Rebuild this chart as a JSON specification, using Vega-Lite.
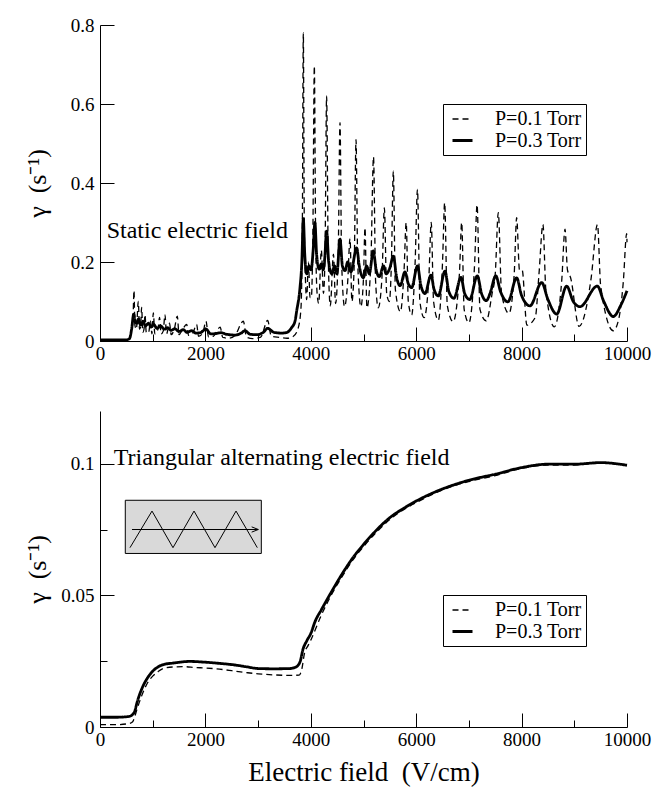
{
"$schema": "https://vega.github.io/schema/vega-lite/v6.json",
"background": "white",
"padding": {"left": 24, "top": 16, "right": 10, "bottom": 5},
"config": {
  "view": {"stroke": null},
  "font": "Liberation Serif",
  "style": {"guide-label": {"font": "Liberation Serif", "fill": "black"}, "guide-title": {"font": "Liberation Serif", "fill": "black", "fontWeight": "normal"}},
  "axis": {"domainColor": "black", "tickColor": "black", "labelColor": "black", "titleColor": "black", "labelFont": "Liberation Serif", "titleFont": "Liberation Serif", "labelFontSize": 19, "titleFontWeight": "normal", "grid": false, "labelFlush": false, "labelOverlap": false, "domainWidth": 1, "tickWidth": 1},
  "legend": {"orient": "none", "title": null, "strokeColor": "black", "fillColor": "white", "padding": 4, "rowPadding": 0, "symbolOffset": 4, "labelOffset": 21, "labelFont": "Liberation Serif", "labelFontSize": 20, "labelColor": "black", "symbolType": "stroke", "symbolSize": 400, "symbolStrokeColor": "black"}
},
"datasets": {
  "top": [
{"x":0,"y":0.001,"s":"P=0.1 Torr"},{"x":300,"y":0.001,"s":"P=0.1 Torr"},{"x":500,"y":0.002,"s":"P=0.1 Torr"},{"x":560,"y":0.005,"s":"P=0.1 Torr"},{"x":600,"y":0.03,"s":"P=0.1 Torr"},{"x":625,"y":0.05,"s":"P=0.1 Torr"},{"x":645,"y":0.128,"s":"P=0.1 Torr"},{"x":662,"y":0.04,"s":"P=0.1 Torr"},{"x":690,"y":0.03,"s":"P=0.1 Torr"},{"x":727,"y":0.10,"s":"P=0.1 Torr"},{"x":750,"y":0.03,"s":"P=0.1 Torr"},{"x":770,"y":0.035,"s":"P=0.1 Torr"},{"x":790,"y":0.085,"s":"P=0.1 Torr"},{"x":812,"y":0.022,"s":"P=0.1 Torr"},{"x":835,"y":0.03,"s":"P=0.1 Torr"},{"x":854,"y":0.067,"s":"P=0.1 Torr"},{"x":878,"y":0.022,"s":"P=0.1 Torr"},{"x":920,"y":0.02,"s":"P=0.1 Torr"},{"x":960,"y":0.05,"s":"P=0.1 Torr"},{"x":985,"y":0.018,"s":"P=0.1 Torr"},{"x":1012,"y":0.071,"s":"P=0.1 Torr"},{"x":1040,"y":0.018,"s":"P=0.1 Torr"},{"x":1100,"y":0.03,"s":"P=0.1 Torr"},{"x":1130,"y":0.06,"s":"P=0.1 Torr"},{"x":1160,"y":0.018,"s":"P=0.1 Torr"},{"x":1200,"y":0.025,"s":"P=0.1 Torr"},{"x":1233,"y":0.067,"s":"P=0.1 Torr"},{"x":1262,"y":0.018,"s":"P=0.1 Torr"},{"x":1320,"y":0.045,"s":"P=0.1 Torr"},{"x":1350,"y":0.016,"s":"P=0.1 Torr"},{"x":1410,"y":0.03,"s":"P=0.1 Torr"},{"x":1467,"y":0.063,"s":"P=0.1 Torr"},{"x":1500,"y":0.016,"s":"P=0.1 Torr"},{"x":1560,"y":0.028,"s":"P=0.1 Torr"},{"x":1645,"y":0.042,"s":"P=0.1 Torr"},{"x":1680,"y":0.014,"s":"P=0.1 Torr"},{"x":1760,"y":0.02,"s":"P=0.1 Torr"},{"x":1834,"y":0.042,"s":"P=0.1 Torr"},{"x":1870,"y":0.012,"s":"P=0.1 Torr"},{"x":1950,"y":0.02,"s":"P=0.1 Torr"},{"x":2011,"y":0.05,"s":"P=0.1 Torr"},{"x":2060,"y":0.01,"s":"P=0.1 Torr"},{"x":2150,"y":0.012,"s":"P=0.1 Torr"},{"x":2280,"y":0.035,"s":"P=0.1 Torr"},{"x":2330,"y":0.009,"s":"P=0.1 Torr"},{"x":2450,"y":0.007,"s":"P=0.1 Torr"},{"x":2560,"y":0.014,"s":"P=0.1 Torr"},{"x":2720,"y":0.05,"s":"P=0.1 Torr"},{"x":2780,"y":0.01,"s":"P=0.1 Torr"},{"x":2900,"y":0.006,"s":"P=0.1 Torr"},{"x":3050,"y":0.01,"s":"P=0.1 Torr"},{"x":3181,"y":0.052,"s":"P=0.1 Torr"},{"x":3250,"y":0.012,"s":"P=0.1 Torr"},{"x":3400,"y":0.009,"s":"P=0.1 Torr"},{"x":3550,"y":0.007,"s":"P=0.1 Torr"},{"x":3669,"y":0.012,"s":"P=0.1 Torr"},{"x":3763,"y":0.034,"s":"P=0.1 Torr"},{"x":3814,"y":0.084,"s":"P=0.1 Torr"},{"x":3840,"y":0.3,"s":"P=0.1 Torr"},{"x":3858,"y":0.78,"s":"P=0.1 Torr"},{"x":3876,"y":0.3,"s":"P=0.1 Torr"},{"x":3900,"y":0.15,"s":"P=0.1 Torr"},{"x":3921,"y":0.105,"s":"P=0.1 Torr"},{"x":3955,"y":0.2,"s":"P=0.1 Torr"},{"x":3985,"y":0.11,"s":"P=0.1 Torr"},{"x":4010,"y":0.11,"s":"P=0.1 Torr"},{"x":4040,"y":0.28,"s":"P=0.1 Torr"},{"x":4067,"y":0.696,"s":"P=0.1 Torr"},{"x":4092,"y":0.26,"s":"P=0.1 Torr"},{"x":4120,"y":0.12,"s":"P=0.1 Torr"},{"x":4150,"y":0.095,"s":"P=0.1 Torr"},{"x":4200,"y":0.23,"s":"P=0.1 Torr"},{"x":4240,"y":0.12,"s":"P=0.1 Torr"},{"x":4270,"y":0.22,"s":"P=0.1 Torr"},{"x":4300,"y":0.62,"s":"P=0.1 Torr"},{"x":4330,"y":0.22,"s":"P=0.1 Torr"},{"x":4370,"y":0.089,"s":"P=0.1 Torr"},{"x":4430,"y":0.22,"s":"P=0.1 Torr"},{"x":4470,"y":0.095,"s":"P=0.1 Torr"},{"x":4520,"y":0.22,"s":"P=0.1 Torr"},{"x":4554,"y":0.553,"s":"P=0.1 Torr"},{"x":4585,"y":0.2,"s":"P=0.1 Torr"},{"x":4640,"y":0.087,"s":"P=0.1 Torr"},{"x":4700,"y":0.15,"s":"P=0.1 Torr"},{"x":4744,"y":0.26,"s":"P=0.1 Torr"},{"x":4780,"y":0.1,"s":"P=0.1 Torr"},{"x":4825,"y":0.2,"s":"P=0.1 Torr"},{"x":4858,"y":0.51,"s":"P=0.1 Torr"},{"x":4890,"y":0.2,"s":"P=0.1 Torr"},{"x":4950,"y":0.087,"s":"P=0.1 Torr"},{"x":5000,"y":0.16,"s":"P=0.1 Torr"},{"x":5028,"y":0.287,"s":"P=0.1 Torr"},{"x":5065,"y":0.084,"s":"P=0.1 Torr"},{"x":5140,"y":0.2,"s":"P=0.1 Torr"},{"x":5190,"y":0.466,"s":"P=0.1 Torr"},{"x":5230,"y":0.15,"s":"P=0.1 Torr"},{"x":5280,"y":0.084,"s":"P=0.1 Torr"},{"x":5350,"y":0.16,"s":"P=0.1 Torr"},{"x":5396,"y":0.337,"s":"P=0.1 Torr"},{"x":5440,"y":0.12,"s":"P=0.1 Torr"},{"x":5490,"y":0.1,"s":"P=0.1 Torr"},{"x":5530,"y":0.2,"s":"P=0.1 Torr"},{"x":5566,"y":0.43,"s":"P=0.1 Torr"},{"x":5605,"y":0.13,"s":"P=0.1 Torr"},{"x":5700,"y":0.074,"s":"P=0.1 Torr"},{"x":5770,"y":0.18,"s":"P=0.1 Torr"},{"x":5810,"y":0.30,"s":"P=0.1 Torr"},{"x":5850,"y":0.1,"s":"P=0.1 Torr"},{"x":5914,"y":0.066,"s":"P=0.1 Torr"},{"x":5980,"y":0.2,"s":"P=0.1 Torr"},{"x":6024,"y":0.384,"s":"P=0.1 Torr"},{"x":6070,"y":0.1,"s":"P=0.1 Torr"},{"x":6150,"y":0.059,"s":"P=0.1 Torr"},{"x":6240,"y":0.16,"s":"P=0.1 Torr"},{"x":6285,"y":0.30,"s":"P=0.1 Torr"},{"x":6330,"y":0.1,"s":"P=0.1 Torr"},{"x":6420,"y":0.053,"s":"P=0.1 Torr"},{"x":6500,"y":0.2,"s":"P=0.1 Torr"},{"x":6540,"y":0.35,"s":"P=0.1 Torr"},{"x":6590,"y":0.09,"s":"P=0.1 Torr"},{"x":6700,"y":0.049,"s":"P=0.1 Torr"},{"x":6820,"y":0.17,"s":"P=0.1 Torr"},{"x":6863,"y":0.30,"s":"P=0.1 Torr"},{"x":6910,"y":0.08,"s":"P=0.1 Torr"},{"x":7000,"y":0.046,"s":"P=0.1 Torr"},{"x":7110,"y":0.2,"s":"P=0.1 Torr"},{"x":7155,"y":0.345,"s":"P=0.1 Torr"},{"x":7210,"y":0.08,"s":"P=0.1 Torr"},{"x":7330,"y":0.051,"s":"P=0.1 Torr"},{"x":7440,"y":0.12,"s":"P=0.1 Torr"},{"x":7500,"y":0.17,"s":"P=0.1 Torr"},{"x":7558,"y":0.325,"s":"P=0.1 Torr"},{"x":7620,"y":0.12,"s":"P=0.1 Torr"},{"x":7760,"y":0.07,"s":"P=0.1 Torr"},{"x":7860,"y":0.17,"s":"P=0.1 Torr"},{"x":7906,"y":0.312,"s":"P=0.1 Torr"},{"x":7960,"y":0.18,"s":"P=0.1 Torr"},{"x":8010,"y":0.18,"s":"P=0.1 Torr"},{"x":8100,"y":0.04,"s":"P=0.1 Torr"},{"x":8260,"y":0.06,"s":"P=0.1 Torr"},{"x":8330,"y":0.17,"s":"P=0.1 Torr"},{"x":8405,"y":0.295,"s":"P=0.1 Torr"},{"x":8460,"y":0.13,"s":"P=0.1 Torr"},{"x":8620,"y":0.036,"s":"P=0.1 Torr"},{"x":8760,"y":0.15,"s":"P=0.1 Torr"},{"x":8824,"y":0.283,"s":"P=0.1 Torr"},{"x":8870,"y":0.18,"s":"P=0.1 Torr"},{"x":8930,"y":0.16,"s":"P=0.1 Torr"},{"x":9090,"y":0.037,"s":"P=0.1 Torr"},{"x":9250,"y":0.1,"s":"P=0.1 Torr"},{"x":9320,"y":0.16,"s":"P=0.1 Torr"},{"x":9440,"y":0.295,"s":"P=0.1 Torr"},{"x":9500,"y":0.14,"s":"P=0.1 Torr"},{"x":9740,"y":0.026,"s":"P=0.1 Torr"},{"x":9850,"y":0.06,"s":"P=0.1 Torr"},{"x":9930,"y":0.15,"s":"P=0.1 Torr"},{"x":9994,"y":0.272,"s":"P=0.1 Torr"},{"x":10000,"y":0.25,"s":"P=0.1 Torr"},
{"x":0,"y":0.003,"s":"P=0.3 Torr"},{"x":500,"y":0.003,"s":"P=0.3 Torr"},{"x":560,"y":0.006,"s":"P=0.3 Torr"},{"x":600,"y":0.03,"s":"P=0.3 Torr"},{"x":640,"y":0.068,"s":"P=0.3 Torr"},{"x":670,"y":0.048,"s":"P=0.3 Torr"},{"x":700,"y":0.045,"s":"P=0.3 Torr"},{"x":730,"y":0.056,"s":"P=0.3 Torr"},{"x":770,"y":0.04,"s":"P=0.3 Torr"},{"x":820,"y":0.05,"s":"P=0.3 Torr"},{"x":860,"y":0.038,"s":"P=0.3 Torr"},{"x":920,"y":0.045,"s":"P=0.3 Torr"},{"x":970,"y":0.035,"s":"P=0.3 Torr"},{"x":1020,"y":0.042,"s":"P=0.3 Torr"},{"x":1080,"y":0.032,"s":"P=0.3 Torr"},{"x":1150,"y":0.038,"s":"P=0.3 Torr"},{"x":1220,"y":0.03,"s":"P=0.3 Torr"},{"x":1280,"y":0.034,"s":"P=0.3 Torr"},{"x":1350,"y":0.027,"s":"P=0.3 Torr"},{"x":1420,"y":0.031,"s":"P=0.3 Torr"},{"x":1500,"y":0.024,"s":"P=0.3 Torr"},{"x":1580,"y":0.029,"s":"P=0.3 Torr"},{"x":1650,"y":0.022,"s":"P=0.3 Torr"},{"x":1740,"y":0.026,"s":"P=0.3 Torr"},{"x":1820,"y":0.02,"s":"P=0.3 Torr"},{"x":1900,"y":0.021,"s":"P=0.3 Torr"},{"x":2011,"y":0.03,"s":"P=0.3 Torr"},{"x":2100,"y":0.018,"s":"P=0.3 Torr"},{"x":2200,"y":0.019,"s":"P=0.3 Torr"},{"x":2300,"y":0.021,"s":"P=0.3 Torr"},{"x":2400,"y":0.017,"s":"P=0.3 Torr"},{"x":2562,"y":0.015,"s":"P=0.3 Torr"},{"x":2680,"y":0.02,"s":"P=0.3 Torr"},{"x":2751,"y":0.026,"s":"P=0.3 Torr"},{"x":2850,"y":0.017,"s":"P=0.3 Torr"},{"x":2973,"y":0.016,"s":"P=0.3 Torr"},{"x":3100,"y":0.022,"s":"P=0.3 Torr"},{"x":3181,"y":0.032,"s":"P=0.3 Torr"},{"x":3300,"y":0.022,"s":"P=0.3 Torr"},{"x":3447,"y":0.02,"s":"P=0.3 Torr"},{"x":3550,"y":0.022,"s":"P=0.3 Torr"},{"x":3637,"y":0.034,"s":"P=0.3 Torr"},{"x":3700,"y":0.05,"s":"P=0.3 Torr"},{"x":3732,"y":0.076,"s":"P=0.3 Torr"},{"x":3795,"y":0.135,"s":"P=0.3 Torr"},{"x":3830,"y":0.2,"s":"P=0.3 Torr"},{"x":3858,"y":0.31,"s":"P=0.3 Torr"},{"x":3885,"y":0.22,"s":"P=0.3 Torr"},{"x":3925,"y":0.17,"s":"P=0.3 Torr"},{"x":3965,"y":0.19,"s":"P=0.3 Torr"},{"x":4005,"y":0.18,"s":"P=0.3 Torr"},{"x":4045,"y":0.23,"s":"P=0.3 Torr"},{"x":4078,"y":0.30,"s":"P=0.3 Torr"},{"x":4110,"y":0.22,"s":"P=0.3 Torr"},{"x":4160,"y":0.182,"s":"P=0.3 Torr"},{"x":4200,"y":0.195,"s":"P=0.3 Torr"},{"x":4235,"y":0.18,"s":"P=0.3 Torr"},{"x":4265,"y":0.21,"s":"P=0.3 Torr"},{"x":4300,"y":0.278,"s":"P=0.3 Torr"},{"x":4340,"y":0.2,"s":"P=0.3 Torr"},{"x":4400,"y":0.17,"s":"P=0.3 Torr"},{"x":4450,"y":0.19,"s":"P=0.3 Torr"},{"x":4495,"y":0.17,"s":"P=0.3 Torr"},{"x":4554,"y":0.258,"s":"P=0.3 Torr"},{"x":4600,"y":0.19,"s":"P=0.3 Torr"},{"x":4650,"y":0.178,"s":"P=0.3 Torr"},{"x":4700,"y":0.2,"s":"P=0.3 Torr"},{"x":4760,"y":0.175,"s":"P=0.3 Torr"},{"x":4870,"y":0.236,"s":"P=0.3 Torr"},{"x":4920,"y":0.19,"s":"P=0.3 Torr"},{"x":4997,"y":0.16,"s":"P=0.3 Torr"},{"x":5060,"y":0.19,"s":"P=0.3 Torr"},{"x":5110,"y":0.17,"s":"P=0.3 Torr"},{"x":5186,"y":0.228,"s":"P=0.3 Torr"},{"x":5240,"y":0.18,"s":"P=0.3 Torr"},{"x":5300,"y":0.163,"s":"P=0.3 Torr"},{"x":5380,"y":0.19,"s":"P=0.3 Torr"},{"x":5430,"y":0.17,"s":"P=0.3 Torr"},{"x":5500,"y":0.185,"s":"P=0.3 Torr"},{"x":5566,"y":0.215,"s":"P=0.3 Torr"},{"x":5630,"y":0.16,"s":"P=0.3 Torr"},{"x":5695,"y":0.14,"s":"P=0.3 Torr"},{"x":5787,"y":0.175,"s":"P=0.3 Torr"},{"x":5850,"y":0.145,"s":"P=0.3 Torr"},{"x":5914,"y":0.135,"s":"P=0.3 Torr"},{"x":6024,"y":0.19,"s":"P=0.3 Torr"},{"x":6090,"y":0.14,"s":"P=0.3 Torr"},{"x":6167,"y":0.12,"s":"P=0.3 Torr"},{"x":6281,"y":0.167,"s":"P=0.3 Torr"},{"x":6340,"y":0.13,"s":"P=0.3 Torr"},{"x":6420,"y":0.114,"s":"P=0.3 Torr"},{"x":6546,"y":0.177,"s":"P=0.3 Torr"},{"x":6620,"y":0.125,"s":"P=0.3 Torr"},{"x":6715,"y":0.108,"s":"P=0.3 Torr"},{"x":6850,"y":0.161,"s":"P=0.3 Torr"},{"x":6920,"y":0.12,"s":"P=0.3 Torr"},{"x":7015,"y":0.105,"s":"P=0.3 Torr"},{"x":7160,"y":0.165,"s":"P=0.3 Torr"},{"x":7240,"y":0.12,"s":"P=0.3 Torr"},{"x":7330,"y":0.102,"s":"P=0.3 Torr"},{"x":7400,"y":0.12,"s":"P=0.3 Torr"},{"x":7510,"y":0.165,"s":"P=0.3 Torr"},{"x":7600,"y":0.125,"s":"P=0.3 Torr"},{"x":7740,"y":0.099,"s":"P=0.3 Torr"},{"x":7906,"y":0.16,"s":"P=0.3 Torr"},{"x":8000,"y":0.115,"s":"P=0.3 Torr"},{"x":8159,"y":0.089,"s":"P=0.3 Torr"},{"x":8381,"y":0.148,"s":"P=0.3 Torr"},{"x":8500,"y":0.105,"s":"P=0.3 Torr"},{"x":8666,"y":0.068,"s":"P=0.3 Torr"},{"x":8855,"y":0.139,"s":"P=0.3 Torr"},{"x":8980,"y":0.1,"s":"P=0.3 Torr"},{"x":9108,"y":0.087,"s":"P=0.3 Torr"},{"x":9437,"y":0.139,"s":"P=0.3 Torr"},{"x":9560,"y":0.1,"s":"P=0.3 Torr"},{"x":9740,"y":0.062,"s":"P=0.3 Torr"},{"x":9880,"y":0.09,"s":"P=0.3 Torr"},{"x":10000,"y":0.127,"s":"P=0.3 Torr"}
  ],
  "bot": [
{"x":0,"y":0.0009,"s":"P=0.1 Torr"},{"x":300,"y":0.0009,"s":"P=0.1 Torr"},{"x":550,"y":0.0013,"s":"P=0.1 Torr"},{"x":620,"y":0.002,"s":"P=0.1 Torr"},{"x":660,"y":0.004,"s":"P=0.1 Torr"},{"x":700,"y":0.0066,"s":"P=0.1 Torr"},{"x":800,"y":0.0123,"s":"P=0.1 Torr"},{"x":900,"y":0.0167,"s":"P=0.1 Torr"},{"x":1000,"y":0.0193,"s":"P=0.1 Torr"},{"x":1100,"y":0.021,"s":"P=0.1 Torr"},{"x":1200,"y":0.0222,"s":"P=0.1 Torr"},{"x":1400,"y":0.0228,"s":"P=0.1 Torr"},{"x":1600,"y":0.0229,"s":"P=0.1 Torr"},{"x":1800,"y":0.0226,"s":"P=0.1 Torr"},{"x":2000,"y":0.0224,"s":"P=0.1 Torr"},{"x":2200,"y":0.0221,"s":"P=0.1 Torr"},{"x":2500,"y":0.0214,"s":"P=0.1 Torr"},{"x":2800,"y":0.0206,"s":"P=0.1 Torr"},{"x":3000,"y":0.0202,"s":"P=0.1 Torr"},{"x":3300,"y":0.0198,"s":"P=0.1 Torr"},{"x":3600,"y":0.0196,"s":"P=0.1 Torr"},{"x":3780,"y":0.0197,"s":"P=0.1 Torr"},{"x":3830,"y":0.022,"s":"P=0.1 Torr"},{"x":3880,"y":0.028,"s":"P=0.1 Torr"},{"x":3950,"y":0.031,"s":"P=0.1 Torr"},{"x":4000,"y":0.033,"s":"P=0.1 Torr"},{"x":4200,"y":0.0425,"s":"P=0.1 Torr"},{"x":4400,"y":0.0505,"s":"P=0.1 Torr"},{"x":4600,"y":0.0573,"s":"P=0.1 Torr"},{"x":4800,"y":0.0635,"s":"P=0.1 Torr"},{"x":5000,"y":0.0685,"s":"P=0.1 Torr"},{"x":5200,"y":0.073,"s":"P=0.1 Torr"},{"x":5500,"y":0.0788,"s":"P=0.1 Torr"},{"x":5800,"y":0.083,"s":"P=0.1 Torr"},{"x":6000,"y":0.0852,"s":"P=0.1 Torr"},{"x":6400,"y":0.0892,"s":"P=0.1 Torr"},{"x":6800,"y":0.0921,"s":"P=0.1 Torr"},{"x":7000,"y":0.0932,"s":"P=0.1 Torr"},{"x":7500,"y":0.0955,"s":"P=0.1 Torr"},{"x":8000,"y":0.0982,"s":"P=0.1 Torr"},{"x":8500,"y":0.0995,"s":"P=0.1 Torr"},{"x":9000,"y":0.0995,"s":"P=0.1 Torr"},{"x":9500,"y":0.1002,"s":"P=0.1 Torr"},{"x":10000,"y":0.0993,"s":"P=0.1 Torr"},
{"x":0,"y":0.0037,"s":"P=0.3 Torr"},{"x":300,"y":0.0037,"s":"P=0.3 Torr"},{"x":550,"y":0.004,"s":"P=0.3 Torr"},{"x":620,"y":0.0048,"s":"P=0.3 Torr"},{"x":660,"y":0.006,"s":"P=0.3 Torr"},{"x":700,"y":0.0091,"s":"P=0.3 Torr"},{"x":800,"y":0.0148,"s":"P=0.3 Torr"},{"x":900,"y":0.0186,"s":"P=0.3 Torr"},{"x":1000,"y":0.0212,"s":"P=0.3 Torr"},{"x":1100,"y":0.0228,"s":"P=0.3 Torr"},{"x":1200,"y":0.0237,"s":"P=0.3 Torr"},{"x":1400,"y":0.0243,"s":"P=0.3 Torr"},{"x":1700,"y":0.0249,"s":"P=0.3 Torr"},{"x":2000,"y":0.0246,"s":"P=0.3 Torr"},{"x":2300,"y":0.0241,"s":"P=0.3 Torr"},{"x":2500,"y":0.0237,"s":"P=0.3 Torr"},{"x":2800,"y":0.0228,"s":"P=0.3 Torr"},{"x":3000,"y":0.0222,"s":"P=0.3 Torr"},{"x":3300,"y":0.0221,"s":"P=0.3 Torr"},{"x":3600,"y":0.0222,"s":"P=0.3 Torr"},{"x":3720,"y":0.0228,"s":"P=0.3 Torr"},{"x":3800,"y":0.025,"s":"P=0.3 Torr"},{"x":3850,"y":0.0294,"s":"P=0.3 Torr"},{"x":3920,"y":0.0326,"s":"P=0.3 Torr"},{"x":4000,"y":0.0355,"s":"P=0.3 Torr"},{"x":4084,"y":0.0402,"s":"P=0.3 Torr"},{"x":4200,"y":0.0445,"s":"P=0.3 Torr"},{"x":4400,"y":0.0516,"s":"P=0.3 Torr"},{"x":4600,"y":0.0583,"s":"P=0.3 Torr"},{"x":4800,"y":0.0643,"s":"P=0.3 Torr"},{"x":5000,"y":0.0693,"s":"P=0.3 Torr"},{"x":5200,"y":0.0738,"s":"P=0.3 Torr"},{"x":5500,"y":0.0795,"s":"P=0.3 Torr"},{"x":5800,"y":0.0835,"s":"P=0.3 Torr"},{"x":6000,"y":0.0858,"s":"P=0.3 Torr"},{"x":6400,"y":0.0896,"s":"P=0.3 Torr"},{"x":6800,"y":0.0925,"s":"P=0.3 Torr"},{"x":7000,"y":0.0937,"s":"P=0.3 Torr"},{"x":7500,"y":0.096,"s":"P=0.3 Torr"},{"x":8000,"y":0.0985,"s":"P=0.3 Torr"},{"x":8500,"y":0.0998,"s":"P=0.3 Torr"},{"x":9000,"y":0.0998,"s":"P=0.3 Torr"},{"x":9500,"y":0.1004,"s":"P=0.3 Torr"},{"x":10000,"y":0.0994,"s":"P=0.3 Torr"}
  ],
  "inset": [
{"x":569,"y":0.0681,"g":"w","o":0},{"x":987,"y":0.082,"g":"w","o":1},{"x":1385,"y":0.0681,"g":"w","o":2},{"x":1784,"y":0.082,"g":"w","o":3},{"x":2182,"y":0.0681,"g":"w","o":4},{"x":2581,"y":0.082,"g":"w","o":5},{"x":2985,"y":0.0681,"g":"w","o":6},
{"x":607,"y":0.075,"g":"a","o":0},{"x":3004,"y":0.075,"g":"a","o":1},
{"x":2878,"y":0.0760,"g":"h","o":0},{"x":3004,"y":0.075,"g":"h","o":1},{"x":2878,"y":0.0740,"g":"h","o":2}
  ]
},
"bounds": "flush",
"spacing": 70,
"resolve": {"scale": {"strokeDash": "independent", "strokeWidth": "independent"}, "legend": {"strokeDash": "independent", "strokeWidth": "independent"}},
"vconcat": [
  {
    "width": 527, "height": 316,
    "layer": [
      {
        "data": {"name": "top"},
        "mark": {"type": "line", "interpolate": "monotone", "color": "black"},
        "encoding": {
          "x": {"field": "x", "type": "quantitative", "scale": {"domain": [0, 10000], "nice": false},
                "axis": {"title": null, "labelFont": "Liberation Serif", "values": [0,1000,2000,3000,4000,5000,6000,7000,8000,9000,10000], "format": "d",
                         "labelExpr": "datum.value % 2000 === 0 ? datum.label : ''",
                         "tickSize": {"condition": {"test": "datum.value % 2000 === 0", "value": -14}, "value": -7},
                         "labelPadding": 17}},
          "y": {"field": "y", "type": "quantitative", "scale": {"domain": [0, 0.8], "nice": false},
                "axis": {"title": "γ\u00a0\u00a0(s⁻¹)", "labelFont": "Liberation Serif", "titleFont": "Liberation Serif", "titleFontSize": 26, "titleX": -63, "titleAlign": "center", "titleBaseline": "middle",
                         "values": [0,0.1,0.2,0.3,0.4,0.5,0.6,0.7,0.8], "format": "~g",
                         "labelExpr": "round(datum.value*10) % 2 === 0 ? datum.label : ''",
                         "tickSize": {"condition": {"test": "round(datum.value*10) % 2 === 0", "value": -14}, "value": -7},
                         "labelPadding": 20}},
          "strokeDash": {"field": "s", "type": "ordinal", "scale": {"domain": ["P=0.1 Torr", "P=0.3 Torr"], "range": [[6, 4], [1, 0]]}, "legend": {"legendX": 343, "legendY": 79, "labelFont": "Liberation Serif"}},
          "strokeWidth": {"field": "s", "type": "ordinal", "scale": {"domain": ["P=0.1 Torr", "P=0.3 Torr"], "range": [1.3, 2.8]}, "legend": {"legendX": 343, "legendY": 79, "labelFont": "Liberation Serif"}}
        }
      },
      {
        "data": {"values": [{"x": 127, "y": 0.26, "t": "Static electric field"}]},
        "mark": {"type": "text", "align": "left", "baseline": "alphabetic", "fontSize": 24, "font": "Liberation Serif", "color": "black"},
        "encoding": {"x": {"field": "x", "type": "quantitative"}, "y": {"field": "y", "type": "quantitative"}, "text": {"field": "t"}}
      }
    ]
  },
  {
    "width": 527, "height": 316,
    "layer": [
      {
        "data": {"values": [{"x": 480, "x2": 3061, "y": 0.0659, "y2": 0.0861}]},
        "mark": {"type": "rect", "fill": "#d9d9d9", "stroke": "black", "strokeWidth": 1},
        "encoding": {"x": {"field": "x", "type": "quantitative"}, "x2": {"field": "x2"}, "y": {"field": "y", "type": "quantitative"}, "y2": {"field": "y2"}}
      },
      {
        "data": {"name": "inset"},
        "mark": {"type": "line", "color": "black", "strokeWidth": 1},
        "encoding": {"x": {"field": "x", "type": "quantitative"}, "y": {"field": "y", "type": "quantitative"}, "detail": {"field": "g"}, "order": {"field": "o"}}
      },
      {
        "data": {"name": "bot"},
        "mark": {"type": "line", "interpolate": "monotone", "color": "black"},
        "encoding": {
          "x": {"field": "x", "type": "quantitative", "scale": {"domain": [0, 10000], "nice": false},
                "axis": {"title": "Electric field\u00a0\u00a0(V/cm)", "labelFont": "Liberation Serif", "titleFont": "Liberation Serif", "titleFontSize": 27, "titleY": 53, "titleBaseline": "alphabetic",
                         "values": [0,1000,2000,3000,4000,5000,6000,7000,8000,9000,10000], "format": "d",
                         "labelExpr": "datum.value % 2000 === 0 ? datum.label : ''",
                         "tickSize": {"condition": {"test": "datum.value % 2000 === 0", "value": -14}, "value": -7},
                         "labelPadding": 17}},
          "y": {"field": "y", "type": "quantitative", "scale": {"domain": [0, 0.12], "nice": false},
                "axis": {"title": "γ\u00a0\u00a0(s⁻¹)", "labelFont": "Liberation Serif", "titleFont": "Liberation Serif", "titleFontSize": 26, "titleX": -63, "titleAlign": "center", "titleBaseline": "middle",
                         "values": [0,0.025,0.05,0.075,0.1], "format": "~g",
                         "labelExpr": "round(datum.value*40) % 2 === 0 ? datum.label : ''",
                         "tickSize": {"condition": {"test": "round(datum.value*40) % 2 === 0", "value": -14}, "value": -7},
                         "labelPadding": 20}},
          "strokeDash": {"field": "s", "type": "ordinal", "scale": {"domain": ["P=0.1 Torr", "P=0.3 Torr"], "range": [[6, 4], [1, 0]]}, "legend": {"legendX": 343, "legendY": 184, "labelFont": "Liberation Serif"}},
          "strokeWidth": {"field": "s", "type": "ordinal", "scale": {"domain": ["P=0.1 Torr", "P=0.3 Torr"], "range": [1.3, 2.8]}, "legend": {"legendX": 343, "legendY": 184, "labelFont": "Liberation Serif"}}
        }
      },
      {
        "data": {"values": [{"x": 262, "y": 0.0995, "t": "Triangular alternating electric field"}]},
        "mark": {"type": "text", "align": "left", "baseline": "alphabetic", "fontSize": 24, "font": "Liberation Serif", "color": "black"},
        "encoding": {"x": {"field": "x", "type": "quantitative"}, "y": {"field": "y", "type": "quantitative"}, "text": {"field": "t"}}
      }
    ]
  }
]
}
